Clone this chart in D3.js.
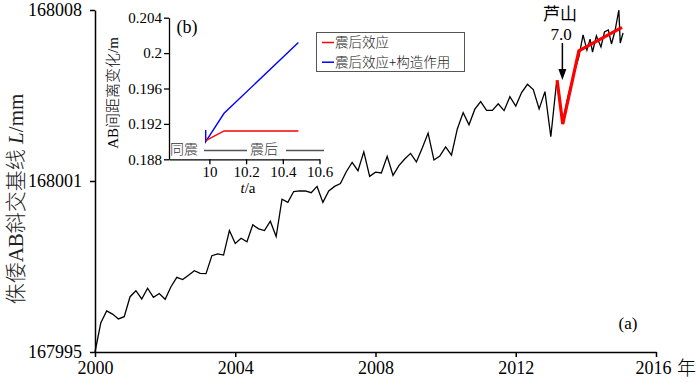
<!DOCTYPE html>
<html><head><meta charset="utf-8">
<script src="https://cdn.jsdelivr.net/npm/d3@7"></script>
<style>
body{margin:0;background:#fff;}
svg{display:block;font-family:"Liberation Serif","Noto Sans CJK SC",serif;}
</style></head>
<body>
<svg id="c" width="700" height="382"></svg>
<script>
// ---- main series (bimonthly, from 2000.0) ----
const mainValues = [167995.0, 167996.03, 167996.44, 167996.33, 167996.16, 167996.24, 167996.94, 167997.15, 167996.86, 167997.24,
  167996.92, 167997.05, 167996.85, 167997.29, 167997.62, 167997.54, 167997.69, 167997.85, 167997.76, 167997.75,
  167998.38, 167998.44, 167998.40, 167999.26, 167998.81, 167998.99, 167998.87, 167999.46, 167999.32, 167999.26,
  167999.59, 167999.05, 168000.36, 168000.25, 168000.63, 168000.65, 168000.65, 168000.59, 168000.81, 168000.25,
  168000.65, 168000.81, 168000.91, 168001.38, 168001.76, 168001.42, 168002.19, 168001.19, 168001.36, 168001.33,
  168002.01, 168001.23, 168001.63, 168001.90, 168002.13, 168001.78, 168002.35, 168002.96, 168001.86, 168002.02,
  168002.40, 168002.06, 168003.13, 168003.80, 168003.30, 168003.94, 168004.25, 168003.89, 168003.89, 168004.16,
  168003.88, 168004.45, 168004.07, 168004.62, 168004.96, 168004.74, 168003.95, 168004.66, 168002.81, 168005.09];
const mainStart = 2000, mainStep = 1/6;
// ---- tail of the series after the earthquake ----
const tailYears  = [2013.34, 2013.50, 2013.67, 2013.80, 2013.92, 2014.03, 2014.12, 2014.19, 2014.30, 2014.43, 2014.53, 2014.64, 2014.73, 2014.83, 2014.94, 2014.98, 2015.06];
const tailValues = [168003.42, 168004.52, 168005.46, 168006.08, 168006.98, 168006.36, 168006.81, 168006.28, 168006.94, 168006.49, 168007.10, 168007.18, 168006.61, 168007.14, 168008.0, 168006.65, 168007.06];
// ---- post-seismic fit (red, main panel) ----
const fitYears  = [2013.18, 2013.34, 2013.80, 2015.03];
const fitValues = [168005.13, 168003.33, 168006.33, 168007.29];
// ---- axes ticks ----
const xTicks = [2000, 2004, 2008, 2012, 2016];
const yTicks = [167995, 168001, 168008];
// ---- inset (b) ----
const insetRedT  = [9.98, 10.08, 10.485];
const insetRedV  = [0.1901, 0.1912, 0.1912];
const insetBlueT = [9.98, 9.98, 10.08, 10.485];
const insetBlueV = [0.1913, 0.1900, 0.1932, 0.2012];
const insetXTicks = [10, 10.2, 10.4, 10.6];
const insetYTicks = [0.188, 0.192, 0.196, 0.2, 0.204];
const legendLabels = ["震后效应", "震后效应+构造作用"];

const svg = d3.select("#c");
const x = d3.scaleLinear().domain([2000, 2016]).range([95, 656]);
const y = d3.scaleLinear().domain([167995, 168001, 168008]).range([352, 181, 10]);

const mainPts = mainValues.map((v, i) => [mainStart + i * mainStep, v]).concat(tailYears.map((t, i) => [t, tailValues[i]]));
const line = d3.line().x(d => x(d[0])).y(d => y(d[1]));

// axes
const gx = svg.append("g").attr("transform", "translate(0,352)")
  .call(d3.axisBottom(x).tickValues(xTicks).tickFormat(d3.format("d")).tickSize(5).tickSizeOuter(0).tickPadding(4));
const gy = svg.append("g").attr("transform", "translate(95,0)")
  .call(d3.axisLeft(y).tickValues(yTicks).tickFormat(d3.format("d")).tickSize(5).tickSizeOuter(0).tickPadding(8));
[gx, gy].forEach(g => {
  g.selectAll("path,line").attr("stroke", "#000").attr("stroke-width", 1.5);
  g.selectAll("text").attr("font-size", 18).attr("fill", "#000").attr("font-family", "Liberation Serif");
});
gx.selectAll(".tick text").filter(d => d === 2016).attr("dx", -3);
svg.append("text").attr("x", 677).attr("y", 375).attr("font-size", 19).attr("font-family", "Noto Sans CJK SC").attr("font-weight", 300).attr("fill", "#000").text("年");

// y label
svg.append("text").attr("transform", "translate(23,199) rotate(-90)").attr("text-anchor", "middle")
  .attr("font-size", 21).attr("fill", "#222")
  .html('<tspan font-family="Noto Sans CJK SC" font-weight="300">侏倭</tspan>AB<tspan font-family="Noto Sans CJK SC" font-weight="300">斜交基线</tspan> <tspan font-style="italic">L</tspan>/mm');

// main line
svg.append("path").datum(mainPts).attr("d", line).attr("fill", "none").attr("stroke", "#000").attr("stroke-width", 1.3).attr("stroke-linejoin", "miter");
// fit
svg.append("path").datum(fitYears.map((t, i) => [t, fitValues[i]])).attr("d", line)
  .attr("fill", "none").attr("stroke", "#ff0000").attr("stroke-width", 3.2);

// earthquake annotation
const eqX = x(2013.33);
svg.append("text").attr("x", 560).attr("y", 20).attr("text-anchor", "middle").attr("font-size", 17)
  .attr("fill", "#000").attr("font-family", "Noto Sans CJK SC").attr("font-weight", 400).text("芦山");
svg.append("text").attr("x", 561).attr("y", 40).attr("text-anchor", "middle").attr("font-size", 17).attr("fill", "#000").text("7.0");
svg.append("line").attr("x1", eqX).attr("x2", eqX).attr("y1", 43).attr("y2", 72).attr("stroke", "#000").attr("stroke-width", 1.5);
svg.append("path").attr("d", `M${eqX-4},69 L${eqX+4},69 L${eqX},80 Z`).attr("fill", "#000");

svg.append("text").attr("x", 628).attr("y", 329).attr("text-anchor", "middle").attr("font-size", 17).text("(a)");

// ---- inset ----
const ix = d3.scaleLinear().domain([9.78, 10.6]).range([169, 319.5]);
const iy = d3.scaleLinear().domain([0.188, 0.204]).range([159.3, 17.7]);
const gix = svg.append("g").attr("transform", "translate(0,159.3)")
  .call(d3.axisBottom(ix).tickValues(insetXTicks).tickFormat(d => d === 10 ? "10" : d3.format(".1f")(d)).tickSize(5).tickSizeOuter(0).tickPadding(2));
const giy = svg.append("g").attr("transform", "translate(169,0)")
  .call(d3.axisLeft(iy).tickValues(insetYTicks).tickFormat(d => d === 0.2 ? "0.2" : d3.format(".3f")(d)).tickSize(5).tickSizeOuter(0).tickPadding(2));
[gix, giy].forEach(g => {
  g.selectAll("path,line").attr("stroke", "#000").attr("stroke-width", 1.3);
  g.selectAll("text").attr("font-size", 15).attr("fill", "#000").attr("font-family", "Liberation Serif");
});
svg.append("text").attr("x", 248).attr("y", 193).attr("text-anchor", "middle").attr("font-size", 15)
  .html('<tspan font-style="italic">t</tspan>/a');
svg.append("text").attr("transform", "translate(118,93) rotate(-90)").attr("text-anchor", "middle").attr("font-size", 15)
  .html('AB<tspan font-family="Noto Sans CJK SC" font-weight="300">间距离变化</tspan>/m');
svg.append("text").attr("x", 187).attr("y", 33).attr("text-anchor", "middle").attr("font-size", 18).text("(b)");

const iline = d3.line().x(d => ix(d[0])).y(d => iy(d[1]));
svg.append("path").datum(insetBlueT.map((t, i) => [t, insetBlueV[i]])).attr("d", iline)
  .attr("fill", "none").attr("stroke", "#0000ff").attr("stroke-width", 1.4);
svg.append("path").datum(insetRedT.map((t, i) => [t, insetRedV[i]])).attr("d", iline)
  .attr("fill", "none").attr("stroke", "#ff0000").attr("stroke-width", 1.4);

// phase annotation
const cj = sel => sel.attr("font-family", "Noto Sans CJK SC").attr("font-weight", 300).attr("font-size", 14).attr("fill", "#333");
svg.append("text").attr("x", 184).attr("y", 154).attr("text-anchor", "middle").call(cj).text("同震");
svg.append("text").attr("x", 264).attr("y", 154).attr("text-anchor", "middle").call(cj).text("震后");
[[204, 247], [286, 324]].forEach(([a, b]) => {
  svg.append("line").attr("x1", a).attr("x2", b).attr("y1", 150.5).attr("y2", 150.5).attr("stroke", "#555").attr("stroke-width", 1.3);
});

// legend
svg.append("rect").attr("x", 316.5).attr("y", 32.5).attr("width", 148).attr("height", 39)
  .attr("fill", "#fff").attr("stroke", "#555").attr("stroke-width", 1);
[["#ff0000", 42.5], ["#0000ff", 62.2]].forEach(([c, yy], i) => {
  svg.append("line").attr("x1", 322).attr("x2", 334).attr("y1", yy).attr("y2", yy).attr("stroke", c).attr("stroke-width", 1.5);
  svg.append("text").attr("x", 335).attr("y", yy + 4.8).attr("font-size", 13.5)
    .attr("font-family", "Noto Sans CJK SC").attr("font-weight", 300).attr("fill", "#222").text(legendLabels[i]);
});
</script>
</body></html>
